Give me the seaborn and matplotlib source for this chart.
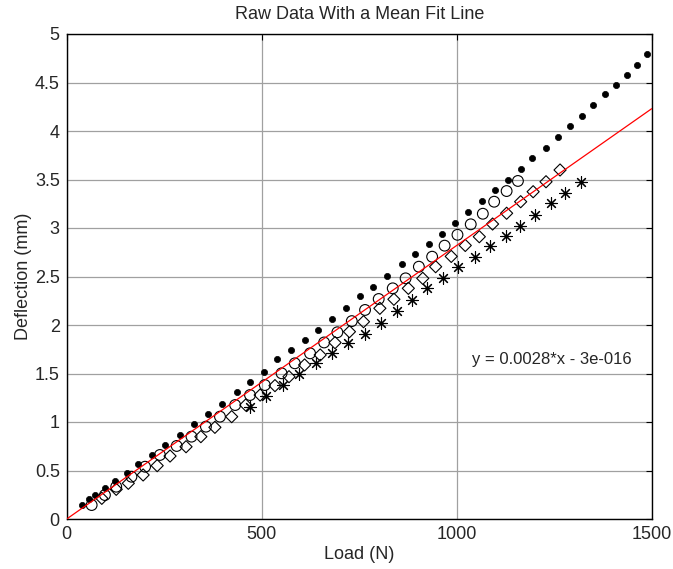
import numpy as np
import pandas as pd
import matplotlib
matplotlib.use("Agg")
import matplotlib.pyplot as plt
import seaborn as sns

# run 1 (dots)
load_dot = [40, 58, 72, 97, 124, 154, 184, 219, 253, 290, 326, 362, 399, 437, 471, 506,
            539, 574, 610, 645, 681, 716, 753, 785, 821, 859, 893, 928, 962, 996, 1028,
            1064, 1099, 1132, 1164, 1194, 1228, 1261, 1291, 1321, 1350, 1381, 1409, 1437,
            1463, 1488]
defl_dot = [0.144, 0.203, 0.25, 0.316, 0.395, 0.477, 0.567, 0.656, 0.763, 0.869, 0.976,
            1.08, 1.189, 1.309, 1.415, 1.515, 1.646, 1.742, 1.842, 1.952, 2.062, 2.178,
            2.296, 2.395, 2.502, 2.632, 2.729, 2.832, 2.941, 3.055, 3.162, 3.281, 3.389,
            3.495, 3.611, 3.719, 3.825, 3.935, 4.052, 4.158, 4.265, 4.378, 4.477, 4.574,
            4.684, 4.791]

# run 2 (circles)
load_circ = [64, 98, 127, 166, 201, 239, 282, 320, 357, 393, 432, 470, 508, 551, 585, 624,
             660, 694, 731, 765, 800, 836, 869, 903, 937, 969, 1002, 1036, 1067, 1096,
             1128, 1157]
defl_circ = [0.144, 0.247, 0.333, 0.436, 0.539, 0.66, 0.753, 0.849, 0.952, 1.055, 1.175,
             1.278, 1.381, 1.502, 1.605, 1.708, 1.82, 1.925, 2.04, 2.155, 2.268, 2.378,
             2.481, 2.601, 2.704, 2.818, 2.93, 3.038, 3.147, 3.271, 3.381, 3.485]

# run 3 (diamonds)
load_diam = [90, 127, 158, 196, 232, 265, 306, 344, 380, 423, 459, 496, 534, 570, 610, 650,
             688, 725, 761, 803, 839, 876, 913, 946, 986, 1022, 1058, 1092, 1128, 1164,
             1196, 1229, 1265]
defl_diam = [0.213, 0.306, 0.368, 0.454, 0.55, 0.649, 0.745, 0.849, 0.945, 1.055, 1.175,
             1.278, 1.375, 1.467, 1.588, 1.691, 1.818, 1.931, 2.034, 2.172, 2.265, 2.378,
             2.481, 2.601, 2.707, 2.82, 2.91, 3.041, 3.152, 3.271, 3.374, 3.477, 3.598]

# run 4 (asterisks)
load_ast = [470, 512, 555, 596, 638, 679, 722, 765, 805, 846, 886, 925, 966, 1004, 1047,
            1085, 1126, 1162, 1201, 1241, 1278, 1318]
defl_ast = [1.158, 1.268, 1.378, 1.495, 1.605, 1.708, 1.818, 1.904, 2.024, 2.144, 2.258,
            2.378, 2.481, 2.596, 2.704, 2.814, 2.921, 3.024, 3.134, 3.255, 3.364, 3.475]

fit_slope = 0.00282
fit_label = "y = 0.0028*x - 3e-016"
fit_x = [0, 1500]

x_ticks = [0, 500, 1000, 1500]
y_ticks = [0, 0.5, 1, 1.5, 2, 2.5, 3, 3.5, 4, 4.5, 5]
y_tick_labels = ["0", "0.5", "1", "1.5", "2", "2.5", "3", "3.5", "4", "4.5", "5"]

sns.set_style("white")
plt.rcParams['font.family'] = ['Liberation Sans', 'DejaVu Sans']
fs = 13

fig = plt.figure(figsize=(6.73, 5.69), dpi=100)
ax = fig.add_axes([66.7 / 673, 1 - 519 / 569, 585 / 673, 485 / 569])

sns.scatterplot(x=load_dot, y=defl_dot, ax=ax, marker="o", s=20,
                color="black", edgecolor="black", linewidth=0.5, zorder=3)
sns.scatterplot(x=load_circ, y=defl_circ, ax=ax, marker="o", s=60,
                facecolor="none", edgecolor="black", linewidth=0.8, zorder=3)
sns.scatterplot(x=load_diam, y=defl_diam, ax=ax, marker="D", s=38,
                facecolor="none", edgecolor="black", linewidth=0.8, zorder=3)
sns.scatterplot(x=load_ast, y=defl_ast, ax=ax, marker=(8, 2, 0), s=70,
                color="black", edgecolor="black", linewidth=0.8, zorder=3)

fit = pd.DataFrame({"x": fit_x, "y": [fit_slope * v for v in fit_x]})
sns.lineplot(data=fit, x="x", y="y", ax=ax, color="red", linewidth=0.9, zorder=4)

ax.text(1038, 1.64, fit_label, fontsize=12, va="center", ha="left")

ax.set_xlim(0, 1500)
ax.set_ylim(0, 5)
ax.set_xticks(x_ticks)
ax.set_xticklabels([str(t) for t in x_ticks])
ax.set_yticks(y_ticks)
ax.set_yticklabels(y_tick_labels)
ax.grid(True, color="#a0a0a0", linewidth=0.9)
ax.set_axisbelow(True)
ax.tick_params(direction="in", length=4, width=0.8, top=True, right=True,
               labelsize=fs, pad=5, color="black")
for sp in ax.spines.values():
    sp.set_visible(True)
    sp.set_color("black")
    sp.set_linewidth(1.0)

ax.set_xlabel("Load (N)", fontsize=fs, labelpad=2)
ax.set_ylabel("Deflection (mm)", fontsize=fs, labelpad=2)
ax.set_title("Raw Data With a Mean Fit Line", fontsize=fs, pad=11)

fig.savefig("out.png", dpi=100)
